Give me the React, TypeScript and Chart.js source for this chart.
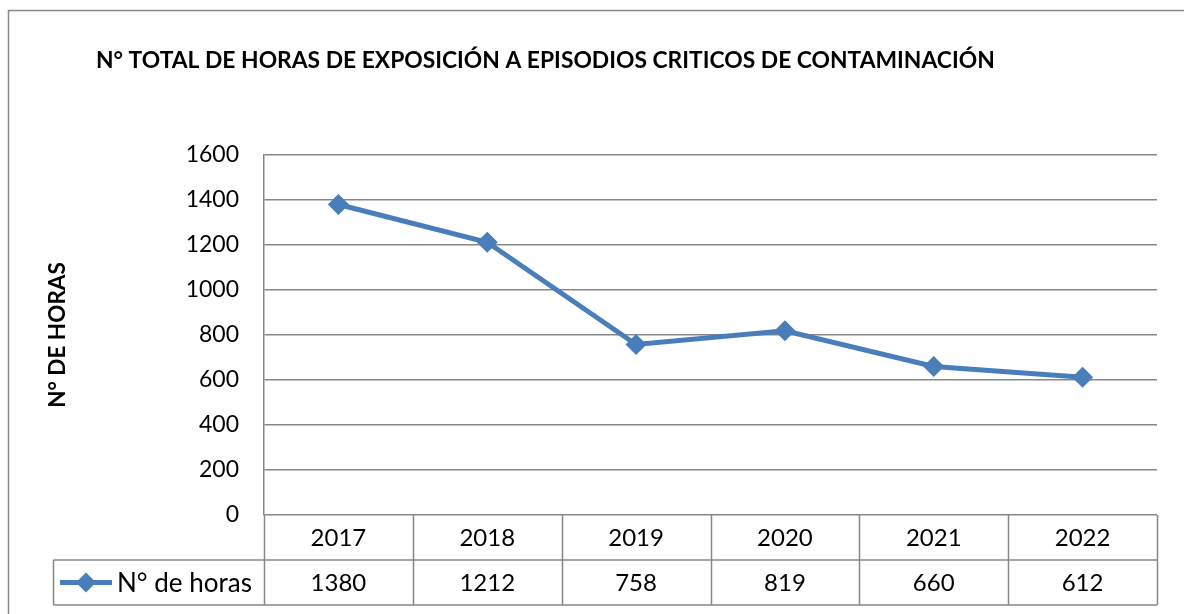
import React, { useEffect, useRef } from "react";
import { Chart, registerables } from "chart.js";

Chart.register(...registerables);

const TITLE = "N° TOTAL DE HORAS DE EXPOSICIÓN A EPISODIOS CRITICOS DE CONTAMINACIÓN";
const Y_TITLE = "N° DE HORAS";
const SERIES_NAME = "N° de horas";
const YEARS = ["2017", "2018", "2019", "2020", "2021", "2022"];
const HOURS = [1380, 1212, 758, 819, 660, 612];
const Y_MIN = 0;
const Y_MAX = 1600;
const Y_STEP = 200;

const FONT = 'Lato, "Open Sans", "Liberation Sans", sans-serif';
const LINE_COLOR = "#4A7EBB";
const GRID = "#878787";

const decorPlugin = {
  id: "decor",
  beforeDraw(chart: any) {
    const ctx = chart.ctx;
    ctx.save();
    ctx.fillStyle = "#ffffff";
    ctx.fillRect(0, 0, chart.width, chart.height);
    ctx.strokeStyle = GRID;
    ctx.lineWidth = 1.5;
    ctx.strokeRect(8.5, 10.5, 1300, 800);
    ctx.restore();
  },
  afterDraw(chart: any) {
    const ctx = chart.ctx;
    const ca = chart.chartArea;
    const xs = chart.scales.x;
    const n = YEARS.length;
    const colW = (ca.right - ca.left) / n;
    const rowH = 45;
    const top = ca.bottom;
    const mid = top + rowH;
    const bot = top + 2 * rowH;
    const legLeft = 53.5;
    ctx.save();
    ctx.strokeStyle = GRID;
    ctx.lineWidth = 1.5;
    ctx.beginPath();
    ctx.moveTo(legLeft, mid);
    ctx.lineTo(ca.right, mid);
    ctx.moveTo(legLeft, bot);
    ctx.lineTo(ca.right, bot);
    for (let i = 0; i <= n; i++) {
      const xx = Math.round(ca.left + i * colW) + 0.5;
      ctx.moveTo(xx, top);
      ctx.lineTo(xx, bot);
    }
    ctx.moveTo(legLeft, mid);
    ctx.lineTo(legLeft, bot);
    ctx.stroke();

    ctx.fillStyle = "#000";
    ctx.font = `24px ${FONT}`;
    ctx.textAlign = "center";
    ctx.textBaseline = "middle";
    for (let i = 0; i < n; i++) {
      const cx = xs.getPixelForValue(i);
      ctx.fillText(YEARS[i], cx, top + rowH / 2 + 1);
      ctx.fillText(String(HOURS[i]), cx, mid + rowH / 2 + 1);
    }

    const ly = mid + rowH / 2;
    ctx.strokeStyle = LINE_COLOR;
    ctx.lineWidth = 5;
    ctx.beginPath();
    ctx.moveTo(60, ly);
    ctx.lineTo(112, ly);
    ctx.stroke();
    ctx.fillStyle = LINE_COLOR;
    ctx.beginPath();
    ctx.moveTo(86, ly - 10);
    ctx.lineTo(96, ly);
    ctx.lineTo(86, ly + 10);
    ctx.lineTo(76, ly);
    ctx.closePath();
    ctx.fill();
    ctx.fillStyle = "#000";
    ctx.textAlign = "left";
    ctx.font = `26px ${FONT}`;
    ctx.fillText(SERIES_NAME, 117, ly + 1);

    ctx.font = `bold 100px ${FONT}`;
    const w100 = ctx.measureText(TITLE).width;
    const size = (899 / w100) * 100;
    ctx.font = `bold ${size}px ${FONT}`;
    ctx.textAlign = "left";
    ctx.fillText(TITLE, 96, 61);

    ctx.save();
    ctx.translate(58, 335);
    ctx.rotate(-Math.PI / 2);
    ctx.textAlign = "center";
    ctx.font = `bold 22.5px ${FONT}`;
    ctx.fillText(Y_TITLE, 0, 0);
    ctx.restore();

    ctx.restore();
  },
};

export default function App() {
  const ref = useRef<HTMLCanvasElement | null>(null);
  useEffect(() => {
    if (!ref.current) return;
    const chart = new Chart(ref.current, {
      type: "line",
      data: {
        labels: YEARS,
        datasets: [
          {
            label: SERIES_NAME,
            data: HOURS,
            borderColor: LINE_COLOR,
            backgroundColor: LINE_COLOR,
            borderWidth: 5,
            pointStyle: "rectRot",
            pointRadius: 9.5,
            pointBorderWidth: 1.5,
            pointBackgroundColor: LINE_COLOR,
            pointBorderColor: LINE_COLOR,
            tension: 0,
          },
        ],
      },
      options: {
        responsive: false,
        animation: false,
        layout: { padding: { left: 0, right: 27, top: 155, bottom: 99 } },
        plugins: {
          legend: { display: false },
          title: { display: false },
          tooltip: { enabled: false },
        },
        scales: {
          x: {
            type: "category",
            offset: true,
            display: false,
          },
          y: {
            min: Y_MIN,
            max: Y_MAX,
            ticks: {
              stepSize: Y_STEP,
              color: "#000",
              font: { family: FONT, size: 23 },
              padding: 25,
              callback: (v: any) => String(v),
            },
            grid: { color: GRID, lineWidth: 1.5, drawTicks: false },
            border: { color: GRID, width: 1.5 },
            afterFit(scale: any) {
              scale.width = 264;
            },
          },
        },
      },
      plugins: [decorPlugin],
    });
    return () => chart.destroy();
  }, []);
  return (
    <div style={{ position: "absolute", left: 0, top: 0, width: 1184, height: 614 }}>
      <canvas ref={ref} width={1184} height={614} />
    </div>
  );
}
